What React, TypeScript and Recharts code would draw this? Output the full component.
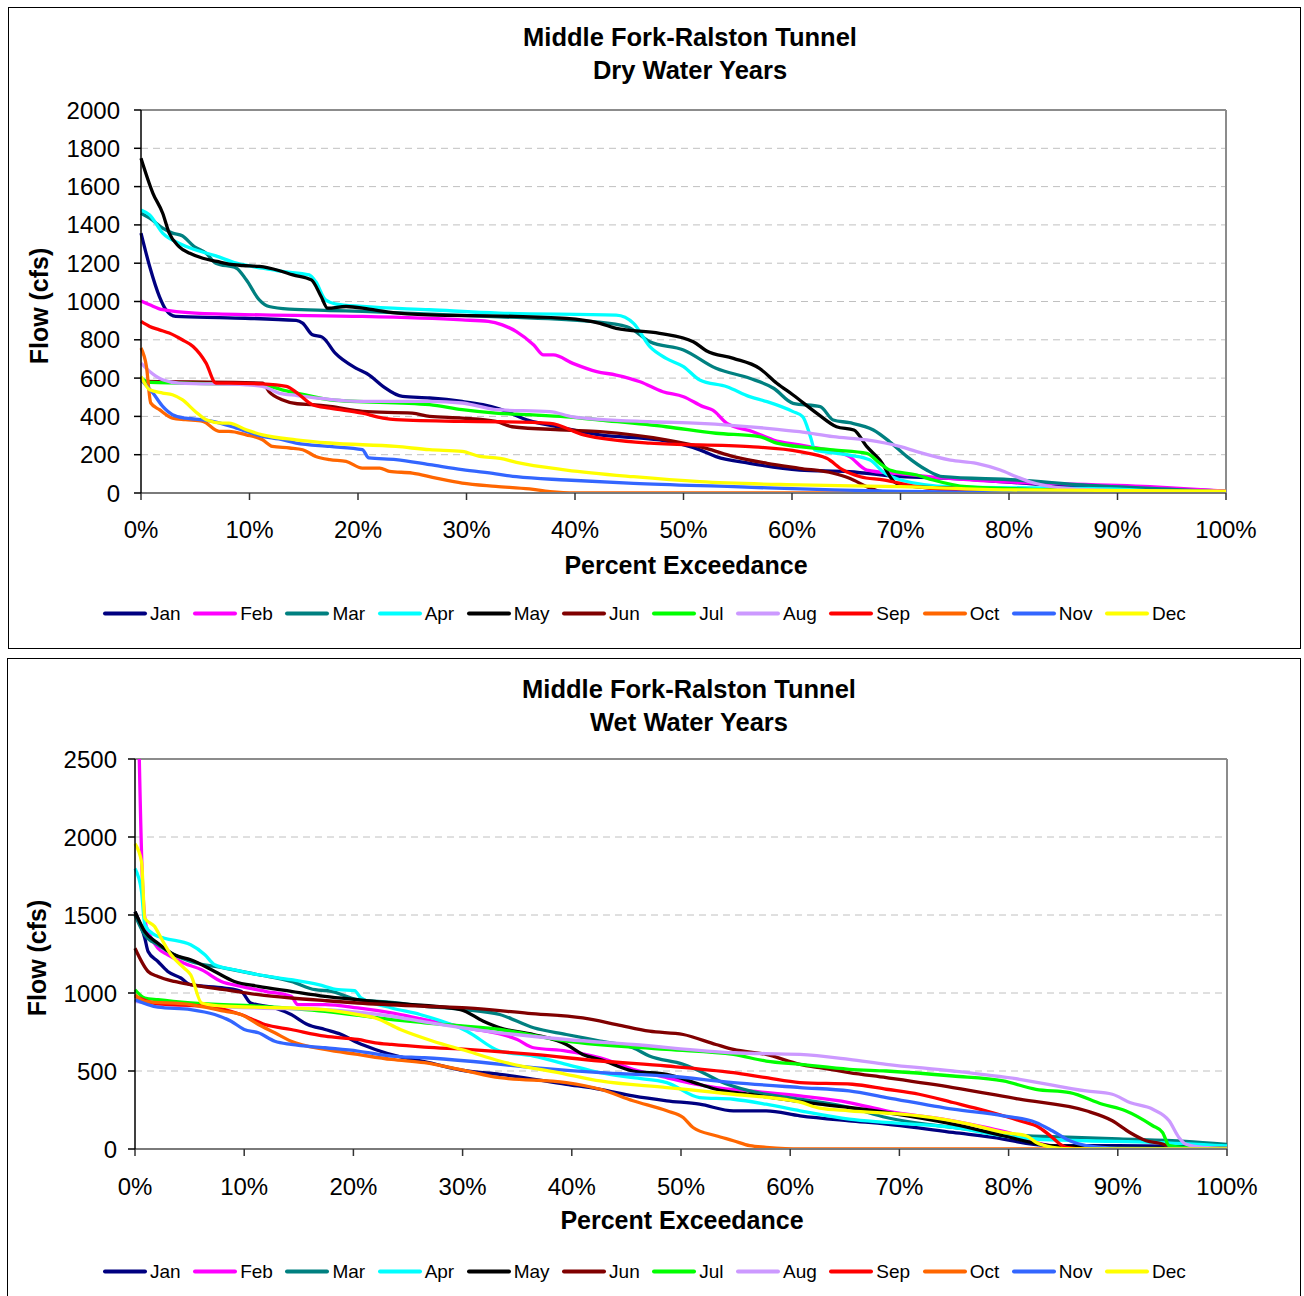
import React from 'react';
import { LineChart, Line, XAxis, YAxis, CartesianGrid, ReferenceLine } from 'recharts';

const FONT = '"Liberation Sans", Arial, Helvetica, sans-serif';

const months = ['Jan', 'Feb', 'Mar', 'Apr', 'May', 'Jun', 'Jul', 'Aug', 'Sep', 'Oct', 'Nov', 'Dec'];
const colors = ['#000080', '#FF00FF', '#008080', '#00FFFF', '#000000', '#800000', '#00FF00', '#CC99FF', '#FF0000', '#FF6600', '#3366FF', '#FFFF00'];
const pctTicks = [0, 10, 20, 30, 40, 50, 60, 70, 80, 90, 100];
const dryFlowTicks = [0, 200, 400, 600, 800, 1000, 1200, 1400, 1600, 1800, 2000];
const wetFlowTicks = [0, 500, 1000, 1500, 2000, 2500];

type Pt = [number, number]; // [percent exceedance, flow cfs]

// ---------- Dry water years ----------
const dryJan: Pt[] = [[0,1357],[0.8,1183],[1.7,1026],[2.3,957],[3.2,922],[8,915],[14.3,901],[14.9,887],[15.8,826],[16.7,814],[17.9,730],[19.8,652],[21,617],[22.3,557],[24.1,504],[26.6,496],[29.6,478],[31.5,461],[33,440],[35.8,378],[38,350],[42.3,303],[47.8,277],[51.5,225],[53,190],[56.1,155],[60.7,120],[65.3,111],[70,85],[74.6,77],[83.8,42],[95,20],[100,10]];
const dryFeb: Pt[] = [[0,1003],[0.8,983],[2,957],[5,939],[11.2,930],[20.4,922],[29.6,904],[32,896],[33.3,878],[34.6,843],[36.2,773],[37.1,721],[38,721],[39.8,677],[42,634],[43.8,616],[46,581],[48.1,529],[50,503],[51.8,451],[52.7,433],[54,364],[56.4,320],[58.3,277],[60.7,251],[63.2,225],[65.3,190],[66.9,120],[70,100],[76.5,68],[93,33],[100,10]];
const dryMar: Pt[] = [[0,1461],[0.8,1435],[2,1383],[2.9,1357],[3.8,1343],[4.9,1287],[6,1252],[6.9,1200],[8.8,1174],[9.7,1113],[10.9,1009],[11.8,974],[13.7,960],[17.4,953],[20.4,948],[33,920],[41.7,895],[44.8,868],[46.9,790],[50,747],[53,651],[56.1,599],[58.3,547],[60.1,468],[62.6,451],[63.8,381],[65.3,367],[67.5,329],[69,268],[70.6,190],[72.4,120],[73.9,85],[80.7,68],[86.8,42],[96,16],[100,5]];
const dryApr: Pt[] = [[0,1478],[0.8,1452],[2,1357],[3.5,1304],[5,1270],[6.9,1238],[8.8,1200],[11.2,1174],[13,1157],[15.5,1139],[16.1,1104],[17,1009],[17.9,988],[20.4,974],[26.6,957],[33,939],[43.8,929],[45.4,886],[46.9,764],[48.4,703],[50,660],[51.5,590],[54,555],[56.1,503],[57.7,477],[60.1,425],[61,398],[61.7,294],[62.1,225],[65.3,198],[67.2,172],[68.4,110],[70,68],[74.6,33],[90,20],[95,5],[100,0]];
const dryMay: Pt[] = [[0,1748],[1.1,1565],[2,1461],[2.6,1357],[3.5,1287],[4.5,1252],[5.7,1226],[7,1209],[8.1,1195],[9.4,1188],[10.9,1183],[12.7,1162],[14,1139],[15.7,1113],[16.6,1026],[17.2,965],[18.9,974],[21,960],[23,943],[26.6,930],[33.1,924],[39.2,912],[42.3,886],[43.8,860],[47.8,834],[50.9,790],[52.1,743],[54.6,703],[57,651],[58.6,573],[60.1,512],[62.3,416],[64.1,346],[65.7,329],[66.9,242],[68.1,172],[69.6,51],[72,30],[80,20],[90,10],[100,5]];
const dryJun: Pt[] = [[0,583],[11.2,574],[11.8,530],[13,487],[14.4,466],[15.8,461],[17.4,452],[20.4,426],[25,417],[26.6,400],[29.6,391],[32.7,374],[34.2,346],[39.2,329],[42.3,320],[48.4,277],[52.1,233],[54.6,190],[57.7,155],[60.7,129],[63.8,103],[65.3,77],[66.9,33],[68,10],[70,0],[100,0]];
const dryJul: Pt[] = [[0,600],[0.8,578],[8.1,570],[11.2,565],[13,539],[14.4,522],[17.4,487],[26.6,461],[29.6,435],[32.7,417],[35.8,409],[39.2,398],[42.3,381],[48.4,346],[53,312],[57,294],[58.6,260],[63.8,225],[66.9,207],[68.1,155],[69,120],[71.5,94],[73,68],[76.1,33],[85,15],[100,5]];
const dryAug: Pt[] = [[0,678],[0.8,635],[2,591],[3.5,574],[9.7,565],[11.2,557],[12.7,522],[14.4,509],[20.4,478],[26.6,478],[29.6,470],[31.2,452],[32.7,435],[37.7,425],[39.8,398],[46.9,372],[51.5,364],[57.7,338],[60.7,320],[63.8,294],[66.9,277],[70,242],[71.5,216],[74.6,172],[77,155],[79.2,120],[80.7,85],[81.9,59],[85.3,24],[90,12],[100,5]];
const drySep: Pt[] = [[0,896],[0.8,870],[1.7,852],[2.6,835],[3.8,800],[4.8,765],[6,678],[6.9,574],[8.1,574],[11.2,570],[13.4,557],[14.4,522],[15.8,461],[17.4,443],[20.4,417],[22.3,391],[23.5,383],[29.6,374],[33.1,372],[37.7,364],[40.8,303],[46.9,260],[56.1,242],[60.7,216],[63.2,181],[64.7,120],[66.3,85],[68.4,68],[71.5,33],[78,5],[100,0]];
const dryOct: Pt[] = [[0,757],[0.5,661],[0.9,470],[1.7,435],[2.9,391],[4.1,383],[5.7,374],[7.2,322],[8.1,322],[9.7,304],[11.2,278],[12.1,243],[13.7,235],[14.9,226],[16.1,191],[17.4,174],[18.9,165],[20.4,130],[22,130],[22.9,113],[25,104],[27.2,78],[29.6,52],[32.7,35],[35.8,21],[37.7,7],[40,0],[100,0]];
const dryNov: Pt[] = [[0,591],[1.1,522],[2,452],[2.9,409],[4.1,391],[5,386],[6.6,374],[8.8,339],[11.2,296],[12.7,282],[14.3,261],[17.4,243],[20.4,226],[21,183],[23.5,174],[26.6,148],[29.6,122],[32.7,100],[34.6,85],[39.2,68],[45.4,50],[54.6,33],[63.8,16],[75,5],[100,0]];
const dryDec: Pt[] = [[0,609],[0.8,539],[2,522],[2.9,513],[3.8,487],[5,426],[6,383],[7.5,365],[8.1,365],[9.7,330],[11.2,304],[14.3,278],[17.4,261],[23.5,243],[26.6,226],[29.6,217],[31.2,191],[33.1,181],[34.6,160],[39.2,120],[45.4,85],[51.5,59],[60.7,42],[70,33],[80,16],[100,10]];

// ---------- Wet water years ----------
const wetJan: Pt[] = [[0,1521],[0.9,1351],[1.2,1266],[2.1,1202],[3,1138],[4.2,1096],[5.1,1053],[8.2,1032],[9.7,1011],[10.6,936],[12.8,904],[14.3,862],[15.8,798],[17.4,766],[18.9,734],[20.4,681],[22,638],[24.3,590],[26.5,560],[30.4,500],[33.4,479],[39.5,415],[42.6,383],[45.6,340],[48.7,309],[51.7,287],[54.8,245],[57.8,245],[60.9,213],[65.4,181],[68.8,160],[74.9,106],[79.5,64],[81.6,36],[84,21],[90,21],[100,15]];
const wetFeb: Pt[] = [[0,4000],[0.7,1691],[1,1436],[1.5,1351],[2.1,1287],[3,1245],[4.5,1191],[6.1,1149],[7.9,1074],[9.7,1043],[11.9,1011],[14.3,979],[14.9,926],[17.4,926],[20.4,904],[23.5,872],[26.5,830],[30.4,777],[35,702],[36.5,649],[39.5,628],[42.6,585],[45.6,511],[48.7,457],[53.2,394],[56.3,372],[60.9,340],[65.4,298],[68.8,245],[74.9,181],[77.9,138],[81,85],[82.5,43],[84,21],[88,10],[100,0]];
const wetMar: Pt[] = [[0,1500],[0.9,1372],[2.1,1309],[3.6,1245],[5.1,1202],[8.2,1160],[11.3,1117],[14.3,1074],[16.5,1021],[18,1011],[19.8,968],[20.4,957],[23.5,940],[26.5,915],[30,895],[33.4,862],[36.5,777],[39.5,734],[42.6,691],[45.6,649],[47.1,596],[50.2,543],[52.3,479],[53.5,436],[56.3,372],[60.9,319],[65.4,266],[68.8,202],[74.9,138],[79.5,100],[81.6,85],[84,79],[90.1,64],[96.2,49],[100,30]];
const wetApr: Pt[] = [[0,1798],[0.6,1649],[0.9,1436],[1.8,1372],[2.7,1351],[5.1,1309],[6.4,1245],[7.3,1181],[9.1,1149],[11.3,1117],[14.3,1085],[16.8,1053],[18.6,1021],[20.1,1015],[20.7,968],[23.5,904],[26.1,862],[30.4,755],[33.4,628],[36.5,596],[39.5,543],[42.6,489],[45.6,457],[48.7,426],[51.7,330],[54.8,319],[57.8,287],[60.9,245],[65.4,191],[68.8,170],[74.9,138],[79.5,85],[82.5,64],[87.1,53],[93.2,43],[100,20]];
const wetMay: Pt[] = [[0,1521],[0.9,1394],[2.1,1319],[3.6,1245],[5.1,1213],[7.3,1138],[9.1,1074],[11.3,1043],[14.3,1011],[17.4,979],[20.4,957],[23.5,936],[26.5,920],[29.8,894],[31.9,819],[33.4,777],[36.5,734],[39.5,670],[41,606],[42.6,574],[45.6,500],[48.7,479],[51.7,415],[53.2,383],[56.3,351],[59.3,319],[62.7,287],[65.4,266],[68.8,234],[74.9,160],[79.5,85],[82.5,36],[84,21],[90,10],[100,5]];
const wetJun: Pt[] = [[0,1287],[1.2,1138],[2.1,1106],[3.6,1074],[5.1,1053],[8.2,1021],[11.3,989],[14.3,968],[17.4,951],[20.4,936],[26.5,915],[30.4,904],[36,870],[41,840],[44.1,798],[47.1,755],[50.2,734],[53.2,670],[54.8,638],[57.8,606],[60.9,543],[62.7,521],[65.4,490],[68.8,457],[74.9,394],[81,319],[87.1,245],[89.5,181],[91.1,106],[92.6,53],[94.1,32],[94.7,15],[96,0],[100,0]];
const wetJul: Pt[] = [[0,1021],[0.9,968],[2.1,957],[5.1,936],[11.3,915],[17.4,883],[23.5,830],[26.5,809],[33.4,766],[39.5,691],[48.7,638],[54.8,606],[57.8,564],[60.9,543],[65.4,511],[68.8,500],[74.9,468],[79.5,436],[82.5,383],[85.6,362],[88.6,287],[90.7,245],[93.2,149],[94.1,106],[94.7,21],[96,10],[100,5]];
const wetAug: Pt[] = [[0,947],[2.1,930],[11.3,904],[17.4,894],[23.5,851],[26.5,815],[33.4,745],[39.5,702],[45.6,670],[54.8,617],[60.9,606],[65.4,574],[68.8,543],[74.9,500],[81,447],[87.1,372],[89.5,351],[91.1,298],[93.2,255],[94.7,181],[95.6,74],[96.2,32],[97.8,11],[100,5]];
const wetSep: Pt[] = [[0,979],[2.1,930],[6.7,915],[8.2,894],[9.7,862],[11.9,798],[14.3,766],[17.4,723],[20.4,702],[22,681],[23.5,670],[26.5,653],[30.4,638],[36.5,606],[42.6,564],[48.7,532],[54.8,489],[57.8,457],[60.9,426],[65.7,415],[68.8,383],[71.8,351],[74.9,298],[77.9,245],[81,181],[82.8,138],[84,74],[84.7,32],[85.3,11],[87,0],[100,0]];
const wetOct: Pt[] = [[0,989],[0.9,947],[5.1,926],[8.2,883],[9.7,862],[11.3,798],[12.8,745],[14.3,691],[17.4,638],[20.4,606],[23.5,574],[26.5,553],[30,506],[33.4,457],[39.5,426],[42.6,383],[45.6,309],[48.7,245],[50.2,202],[51.1,138],[53.2,85],[54.8,53],[56.3,21],[57.8,11],[60.9,0],[100,0]];
const wetNov: Pt[] = [[0,957],[2.1,909],[5.1,894],[7.3,862],[8.8,819],[10,766],[11.3,745],[12.8,691],[14.3,670],[17.4,649],[20.4,628],[23.5,596],[26.5,585],[30.4,564],[36.5,521],[42.6,489],[48.7,468],[54.8,426],[60.9,394],[65.4,372],[68.8,330],[74.9,255],[79.5,213],[82.5,170],[84,117],[85.6,53],[87.1,21],[90,5],[100,0]];
const wetDec: Pt[] = [[0,1957],[0.6,1840],[0.9,1479],[1.8,1426],[2.4,1351],[3.3,1245],[4.5,1160],[5.1,1117],[6.1,936],[8.2,915],[14.3,904],[17.4,894],[20.4,862],[22,840],[24.3,766],[27.3,691],[30.4,628],[33.4,564],[39.5,479],[42.6,436],[48.7,394],[54.8,351],[60.9,300],[62.7,262],[65.4,245],[71.8,213],[76.4,160],[79.5,106],[81.6,85],[82.5,43],[84,11],[86,0],[100,0]];

const drySeries: Pt[][] = [dryJan, dryFeb, dryMar, dryApr, dryMay, dryJun, dryJul, dryAug, drySep, dryOct, dryNov, dryDec];
const wetSeries: Pt[][] = [wetJan, wetFeb, wetMar, wetApr, wetMay, wetJun, wetJul, wetAug, wetSep, wetOct, wetNov, wetDec];

const toRows = (pts: Pt[]) => pts.map(([x, y]) => ({ x, y }));

type ChartProps = {
  series: Pt[][];
  yMax: number;
  yTicks: number[];
  width: number;
  height: number;
  margin: { top: number; right: number; bottom: number; left: number };
  yAxisWidth: number;
  xAxisHeight: number;
  yTickMargin: number;
  xTickMargin: number;
};

function FlowChart(p: ChartProps) {
  const tickStyle = { fill: '#000', fontSize: 24, fontFamily: FONT };
  return (
    <LineChart width={p.width} height={p.height} margin={p.margin}>
      <CartesianGrid vertical={false} stroke="#c0c0c0" strokeDasharray="7 5" />
      <XAxis
        type="number"
        dataKey="x"
        domain={[0, 100]}
        ticks={pctTicks}
        interval={0}
        tickFormatter={(v: number) => `${v}%`}
        height={p.xAxisHeight}
        tickSize={7}
        tickMargin={p.xTickMargin}
        axisLine={{ stroke: '#7a7a7a', strokeWidth: 2 }}
        tickLine={{ stroke: '#333', strokeWidth: 1.5 }}
        tick={tickStyle}
      />
      <YAxis
        type="number"
        domain={[0, p.yMax]}
        ticks={p.yTicks}
        interval={0}
        allowDataOverflow
        width={p.yAxisWidth}
        tickSize={7}
        tickMargin={p.yTickMargin}
        axisLine={{ stroke: '#000', strokeWidth: 1.5 }}
        tickLine={{ stroke: '#000', strokeWidth: 1.5 }}
        tick={tickStyle}
      />
      <ReferenceLine y={p.yMax} stroke="#8c8c8c" strokeWidth={2} />
      <ReferenceLine x={100} stroke="#8c8c8c" strokeWidth={2} />
      {p.series.map((pts, i) => (
        <Line
          key={months[i]}
          name={months[i]}
          data={toRows(pts)}
          dataKey="y"
          type="monotone"
          stroke={colors[i]}
          strokeWidth={3.3}
          dot={false}
          activeDot={false}
          isAnimationActive={false}
        />
      ))}
    </LineChart>
  );
}

function Txt({ x, y, size, bold, rotate, children }: { x: number; y: number; size: number; bold?: boolean; rotate?: boolean; children: React.ReactNode }) {
  return (
    <div
      style={{
        position: 'absolute',
        left: x,
        top: y,
        transform: `translate(-50%, -50%)${rotate ? ' rotate(-90deg)' : ''}`,
        fontSize: size,
        fontWeight: bold ? 700 : 400,
        whiteSpace: 'nowrap',
        lineHeight: 1,
        color: '#000',
        fontFamily: FONT,
      }}
    >
      {children}
    </div>
  );
}

function MonthLegend({ x, y }: { x: number; y: number }) {
  return (
    <div style={{ position: 'absolute', left: x, top: y, transform: 'translateY(-50%)', display: 'flex', alignItems: 'center', fontFamily: FONT, fontSize: 19, lineHeight: 1, whiteSpace: 'nowrap' }}>
      {months.map((m, i) => (
        <div key={m} style={{ display: 'flex', alignItems: 'center', marginRight: 12.5 }}>
          <span style={{ display: 'inline-block', width: 44, height: 4, background: colors[i], borderRadius: 2 }} />
          <span style={{ marginLeft: 3, color: '#000' }}>{m}</span>
        </div>
      ))}
    </div>
  );
}

export default function App() {
  return (
    <div style={{ position: 'absolute', left: 0, top: 0, width: 1304, height: 1296, overflow: 'hidden', background: '#fff' }}>
      <div style={{ position: 'absolute', left: 8, top: 7, width: 1293, height: 642, border: '1px solid #000', boxSizing: 'border-box' }}>
        <FlowChart
          series={drySeries}
          yMax={2000}
          yTicks={dryFlowTicks}
          width={1291}
          height={640}
          margin={{ top: 102, right: 74, bottom: 0, left: 0 }}
          yAxisWidth={132}
          xAxisHeight={155}
          yTickMargin={14}
          xTickMargin={21}
        />
      </div>
      <Txt x={690} y={38} size={25.5} bold>Middle Fork-Ralston Tunnel</Txt>
      <Txt x={690} y={71} size={25.5} bold>Dry Water Years</Txt>
      <Txt x={686} y={565} size={25} bold>Percent Exceedance</Txt>
      <Txt x={38.5} y={306} size={25} bold rotate>Flow (cfs)</Txt>
      <MonthLegend x={103} y={613} />

      <div style={{ position: 'absolute', left: 7, top: 658, width: 1294, height: 660, border: '1px solid #000', boxSizing: 'border-box' }}>
        <FlowChart
          series={wetSeries}
          yMax={2500}
          yTicks={wetFlowTicks}
          width={1292}
          height={640}
          margin={{ top: 100, right: 73, bottom: 0, left: 0 }}
          yAxisWidth={127}
          xAxisHeight={150}
          yTickMargin={11}
          xTickMargin={22}
        />
      </div>
      <Txt x={689} y={690} size={25.5} bold>Middle Fork-Ralston Tunnel</Txt>
      <Txt x={689} y={723} size={25.5} bold>Wet Water Years</Txt>
      <Txt x={682} y={1220} size={25} bold>Percent Exceedance</Txt>
      <Txt x={36.5} y={958} size={25} bold rotate>Flow (cfs)</Txt>
      <MonthLegend x={103} y={1271} />
    </div>
  );
}
